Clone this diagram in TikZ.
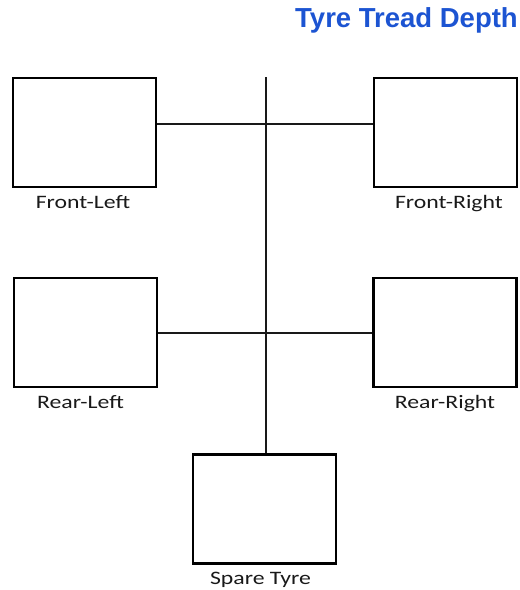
\documentclass[tikz,border=0pt]{standalone}
\usepackage{fontspec}
\usetikzlibrary{positioning}
\newfontfamily\titlefont{Liberation Sans}
\newfontfamily\lblfont[FakeStretch=1.25]{Carlito}
\definecolor{titleblue}{RGB}{28,84,210}

\tikzset{
  tyrebox/.style={draw=black, line width=2.8pt, minimum width=143pt, minimum height=109pt, inner sep=0pt},
  tyrelbl/.style={font=\lblfont\fontsize{19}{21}\selectfont, text=black!90, inner sep=0pt},
  axle/.style={black!90, line width=2.6pt}
}

\begin{document}
\begin{tikzpicture}[x=1pt, y={(0pt,-1pt)}]
  \useasboundingbox (0,0) rectangle (520,590);

  \node[anchor=east, inner sep=0pt, text=titleblue,
        font=\titlefont\bfseries\fontsize{27.5}{30}\selectfont] (title) at (518,20) {Tyre Tread Depth};

  % wheels
  \node[tyrebox] (fl) at (84.5,132.5) {};
  \node[tyrebox] (fr) at (445.5,132.5) {};
  \node[tyrebox] (rl) at (85.5,332.5) {};
  \node[tyrebox] (rr) at (445,332.5) {};
  \node[tyrebox] (spare) at (264.5,509) {};

  \node[tyrelbl, below=7pt of fl, xshift=-1.5pt] (flLbl) {Front-Left};
  \node[tyrelbl, below=7pt of fr, xshift=3.5pt] (frLbl) {Front-Right};
  \node[tyrelbl, below=7pt of rl, xshift=-5pt] (rlLbl) {Rear-Left};
  \node[tyrelbl, below=7pt of rr] (rrLbl) {Rear-Right};
  \node[tyrelbl, below=7pt of spare, xshift=-4pt] (spareLbl) {Spare Tyre};

  % axles
  \coordinate (top) at (266,77);
  \coordinate (hubF) at (266,124);
  \coordinate (hubR) at (266,333);
  \draw[axle] (top) -- (top |- spare.north);
  \draw[axle] (fl.east |- hubF) -- (fr.west |- hubF);
  \draw[axle] (rl.east |- hubR) -- (rr.west |- hubR);
\end{tikzpicture}
\end{document}
